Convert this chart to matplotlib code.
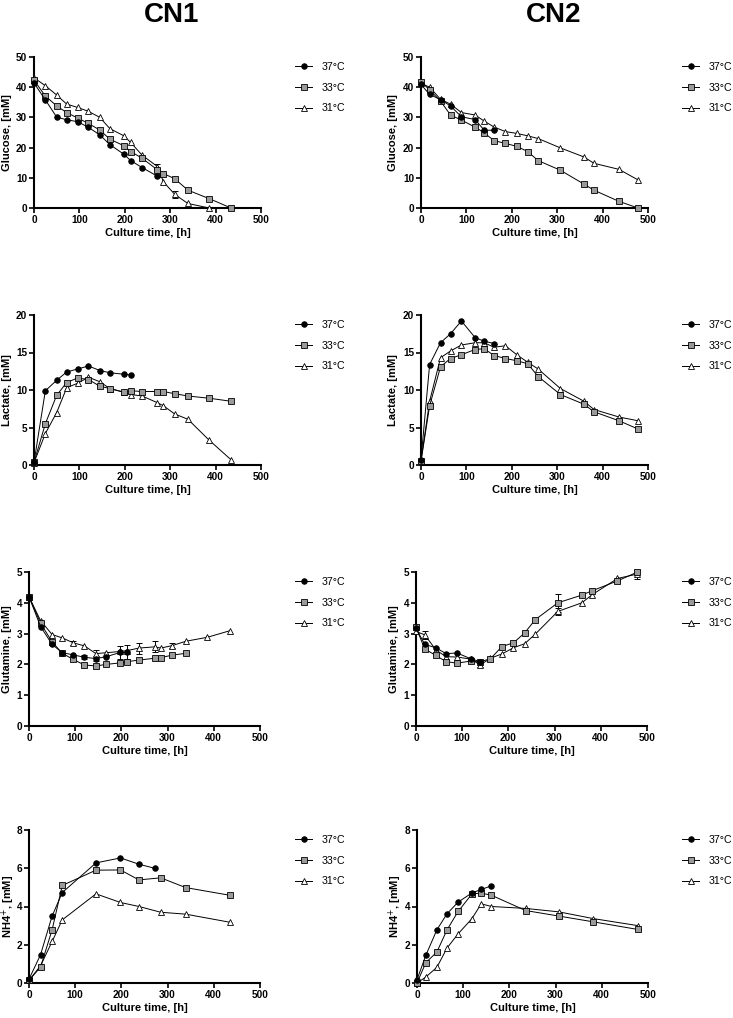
import matplotlib
matplotlib.use('Agg')
import matplotlib.pyplot as plt
import numpy as np

plt.rcParams['font.family'] = ['Liberation Sans', 'DejaVu Sans']

# sampling times [h]
cn1_t = [0, 25, 50, 72, 96, 120, 145, 167, 198, 213, 238, 272, 285, 310, 339, 386, 434]
cn2_t = [0, 19, 43, 65, 89, 119, 139, 161, 186, 211, 235, 258, 307, 359, 381, 436, 478]
cn1_t_nh4_37 = [0, 25, 50, 72, 145, 198, 238, 272]
cn1_t_nh4 = [0, 25, 50, 72, 145, 198, 238, 285, 339, 434]
cn2_t_nh4 = [0, 19, 43, 65, 89, 119, 139, 161, 235, 307, 381, 478]

# Glucose [mM]
g1_37 = [41.4, 35.8, 30.1, 29.2, 28.6, 26.7, 24.2, 21.0, 17.8, 15.7, 13.4, 10.5]
g1_33 = [42.3, 37.1, 33.8, 31.6, 29.8, 28.0, 25.8, 22.8, 20.6, 18.7, 16.5, 12.6, 11.4, 9.7, 5.9, 3.1, 0.0]
g1_31 = [43.1, 40.5, 37.4, 34.4, 33.3, 32.0, 30.0, 26.3, 23.9, 21.7, 17.5, 13.7, 8.7, 4.5, 1.5, 0.0]
g1_31_err = [0, 0, 0, 0, 0, 0, 0, 0, 0, 0, 0, 0.8, 0, 1.2, 0, 0]
g2_37 = [40.9, 37.6, 35.9, 33.8, 30.2, 29.3, 25.8, 25.7]
g2_33 = [41.8, 39.1, 35.4, 30.8, 29.1, 26.8, 24.9, 22.3, 21.4, 20.4, 18.7, 15.7, 12.5, 7.9, 5.9, 2.2, 0.0]
g2_31 = [41.3, 40.0, 36.0, 34.4, 31.6, 30.8, 28.8, 26.8, 25.3, 24.7, 23.9, 23.0, 19.9, 16.9, 14.8, 12.8, 9.3]

# Lactate [mM]
l1_37 = [0.35, 9.9, 11.3, 12.4, 12.8, 13.2, 12.6, 12.3, 12.1, 12.0]
l1_33 = [0.35, 5.5, 9.3, 11.0, 11.6, 11.4, 10.5, 10.2, 9.7, 9.9, 9.8, 9.8, 9.8, 9.5, 9.2, 8.9, 8.5]
l1_31 = [0.3, 4.2, 7.0, 10.3, 10.9, 11.7, 11.1, 10.2, 9.7, 9.4, 9.2, 8.3, 7.9, 6.8, 6.1, 3.3, 0.7]
l2_37 = [0.7, 13.4, 16.3, 17.5, 19.2, 17.0, 16.5, 16.2]
l2_33 = [0.5, 7.9, 13.1, 14.2, 14.7, 15.4, 15.5, 14.6, 14.2, 13.9, 13.5, 11.8, 9.4, 8.1, 7.1, 5.9, 4.8]
l2_31 = [0.6, 8.5, 14.3, 15.2, 16.0, 16.3, 16.3, 15.7, 15.9, 14.7, 13.7, 12.8, 10.2, 8.5, 7.4, 6.4, 5.9]

# Glutamine [mM]
q1_37 = [4.2, 3.23, 2.65, 2.38, 2.31, 2.23, 2.19, 2.25, 2.39, 2.40]
q1_37_err = [0, 0, 0, 0, 0, 0.07, 0.07, 0, 0.2, 0.22]
q1_33 = [4.2, 3.34, 2.73, 2.36, 2.16, 1.98, 1.95, 2.0, 2.05, 2.09, 2.14, 2.2, 2.22, 2.30, 2.36]
q1_31 = [4.2, 3.42, 2.97, 2.86, 2.70, 2.60, 2.35, 2.38, 2.42, 2.45, 2.53, 2.57, 2.53, 2.61, 2.75, 2.88, 3.09]
q1_31_err = [0, 0, 0, 0, 0.07, 0, 0.13, 0, 0, 0, 0.18, 0.18, 0, 0.08, 0, 0, 0]
q2_37 = [3.17, 2.65, 2.54, 2.35, 2.37, 2.18, 2.09]
q2_33 = [3.20, 2.50, 2.29, 2.09, 2.04, 2.11, 2.09, 2.18, 2.58, 2.70, 3.02, 3.45, 4.0, 4.25, 4.39, 4.71, 4.99]
q2_33_err = [0, 0, 0, 0, 0, 0, 0, 0, 0, 0, 0, 0, 0.3, 0, 0, 0, 0]
q2_31 = [3.07, 2.96, 2.47, 2.25, 2.24, 2.17, 1.98, 2.20, 2.34, 2.54, 2.67, 2.98, 3.72, 4.0, 4.26, 4.79, 4.93]
q2_31_err = [0, 0.12, 0, 0, 0, 0, 0.08, 0, 0, 0, 0, 0, 0.1, 0, 0, 0, 0.15]

# NH4+ [mM]
n1_37 = [0.2, 1.48, 3.5, 4.73, 6.28, 6.54, 6.21, 6.0]
n1_33 = [0.14, 0.83, 2.78, 5.10, 5.9, 5.91, 5.39, 5.5, 4.99, 4.59]
n1_31 = [0.14, 0.9, 2.17, 3.30, 4.66, 4.21, 4.0, 3.70, 3.6, 3.18]
n2_37 = [0.17, 1.44, 2.78, 3.62, 4.23, 4.71, 4.89, 5.08]
n2_33 = [0.0, 1.06, 1.62, 2.78, 3.74, 4.66, 4.70, 4.59, 3.79, 3.5, 3.2, 2.8]
n2_31 = [0.0, 0.31, 0.82, 1.83, 2.57, 3.37, 4.14, 4.0, 3.9, 3.72, 3.37, 3.0]

temps = ['37°C', '33°C', '31°C']
estilos = {
    '37°C': dict(marker='o', mfc='black', ms=4.0),
    '33°C': dict(marker='s', mfc='#9a9a9a', ms=4.6),
    '31°C': dict(marker='^', mfc='white', ms=4.8),
}

W, H = 733, 1018
fig = plt.figure(figsize=(W / 100, H / 100), dpi=100)


def crear_ejes(left, top, right, bottom):
    return fig.add_axes([left / W, 1 - bottom / H, (right - left) / W, (bottom - top) / H])


def dibujar(ax, series, ylabel, ymax, ystep, top, leg_x, ylab_x):
    handles = {}
    # draw 31 first so 37 stays on top
    for label, t, y, err in reversed(series):
        t = np.asarray(t)
        y = np.asarray(y)
        if err is not None:
            err = np.asarray(err)
            m = err > 0
            ax.errorbar(t[m], y[m], yerr=err[m], fmt='none', ecolor='black',
                        elinewidth=0.7, capsize=2, capthick=0.7, zorder=2, clip_on=False)
        ln, = ax.plot(t, y, color='black', lw=0.7, mec='black', mew=0.6,
                      clip_on=False, zorder=3, label=label, **estilos[label])
        handles[label] = ln
    ax.set_xlim(0, 500)
    ax.set_ylim(0, ymax)
    ax.set_xticks(range(0, 501, 100))
    ax.set_yticks(np.arange(0, ymax + 0.01, ystep))
    ax.spines['top'].set_visible(False)
    ax.spines['right'].set_visible(False)
    ax.spines['left'].set_linewidth(1.5)
    ax.spines['bottom'].set_linewidth(1.5)
    ax.tick_params(width=1.2, length=3.5, labelsize=7.2, pad=1.5)
    for lbl in ax.get_xticklabels() + ax.get_yticklabels():
        lbl.set_fontweight('bold')
    ax.set_xlabel('Culture time, [h]', fontsize=8, fontweight='bold', labelpad=2)
    ax.set_ylabel(ylabel, fontsize=8, fontweight='bold', va='center')
    # label centre placed in figure pixels
    ax.yaxis.set_label_coords(ylab_x / W, 1 - (top + (ax.bbox.height / 2)) / H,
                              transform=fig.transFigure)
    ax.legend([handles[k] for k in temps], temps, loc='upper left',
              bbox_to_anchor=(leg_x / W, 1 - (top + 5) / H), bbox_transform=fig.transFigure,
              frameon=False, borderpad=0, borderaxespad=0, handlelength=1.6,
              handletextpad=0.9, labelspacing=1.0, fontsize=7.7)


# row 1: glucose
ax = crear_ejes(34, 57, 261, 208)
dibujar(ax, [('37°C', cn1_t[:12], g1_37, None), ('33°C', cn1_t, g1_33, None),
             ('31°C', cn1_t[:16], g1_31, g1_31_err)], 'Glucose, [mM]', 50, 10, 57, 295, 7)
ax = crear_ejes(421, 57, 648, 208)
dibujar(ax, [('37°C', cn2_t[:8], g2_37, None), ('33°C', cn2_t, g2_33, None),
             ('31°C', cn2_t, g2_31, None)], 'Glucose, [mM]', 50, 10, 57, 682, 393)

# row 2: lactate
ax = crear_ejes(34, 315, 261, 465)
dibujar(ax, [('37°C', cn1_t[:10], l1_37, None), ('33°C', cn1_t, l1_33, None),
             ('31°C', cn1_t, l1_31, None)], 'Lactate, [mM]', 20, 5, 315, 295, 7)
ax = crear_ejes(421, 315, 648, 465)
dibujar(ax, [('37°C', cn2_t[:8], l2_37, None), ('33°C', cn2_t, l2_33, None),
             ('31°C', cn2_t, l2_31, None)], 'Lactate, [mM]', 20, 5, 315, 682, 393)

# row 3: glutamine
ax = crear_ejes(29, 572, 260, 726)
dibujar(ax, [('37°C', cn1_t[:10], q1_37, q1_37_err), ('33°C', cn1_t[:15], q1_33, None),
             ('31°C', cn1_t, q1_31, q1_31_err)], 'Glutamine, [mM]', 5, 1, 572, 295, 7)
ax = crear_ejes(416, 572, 647, 726)
dibujar(ax, [('37°C', cn2_t[:7], q2_37, None), ('33°C', cn2_t, q2_33, q2_33_err),
             ('31°C', cn2_t, q2_31, q2_31_err)], 'Glutamine, [mM]', 5, 1, 572, 682, 394)

# row 4: NH4+
ax = crear_ejes(29, 830, 260, 983)
dibujar(ax, [('37°C', cn1_t_nh4_37, n1_37, None), ('33°C', cn1_t_nh4, n1_33, None),
             ('31°C', cn1_t_nh4, n1_31, None)], 'NH4$^{+}$, [mM]', 8, 2, 830, 295, 8)
ax = crear_ejes(417, 830, 648, 983)
dibujar(ax, [('37°C', cn2_t_nh4[:8], n2_37, None), ('33°C', cn2_t_nh4, n2_33, None),
             ('31°C', cn2_t_nh4, n2_31, None)], 'NH4$^{+}$, [mM]', 8, 2, 830, 682, 395)

fig.text(172 / W, 1 - 15 / H, 'CN1', ha='center', va='center', fontsize=20, fontweight='bold')
fig.text(554 / W, 1 - 15 / H, 'CN2', ha='center', va='center', fontsize=20, fontweight='bold')

fig.savefig('out.png', dpi=100)
